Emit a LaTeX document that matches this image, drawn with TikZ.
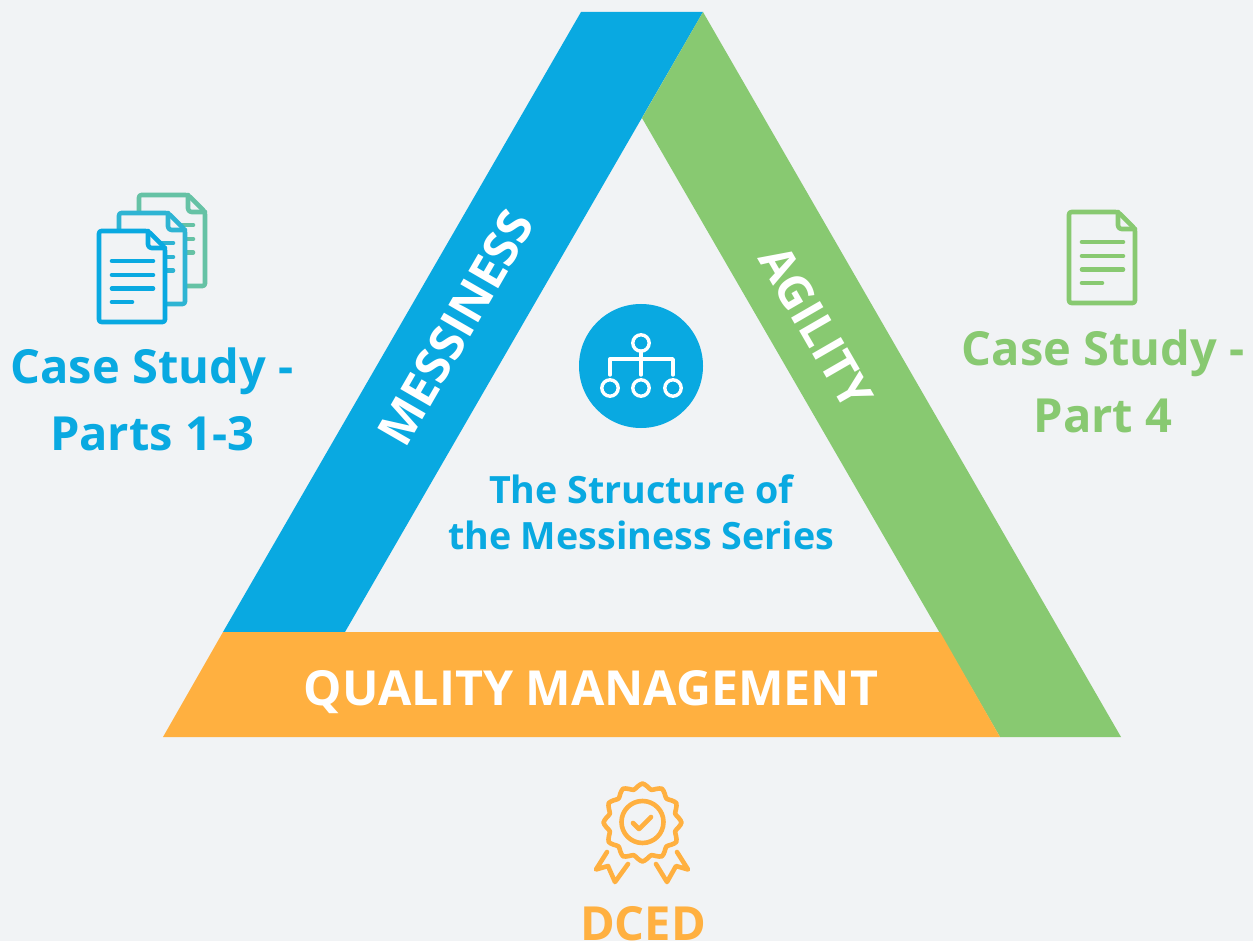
\documentclass[tikz,border=0pt]{standalone}
\usepackage{fontspec}
\setmainfont{Open Sans}
\definecolor{bgc}{HTML}{F1F3F5}
\definecolor{bluec}{HTML}{09A9E1}
\definecolor{greenc}{HTML}{88C971}
\definecolor{orangec}{HTML}{FFB040}
\definecolor{midc}{HTML}{2EB4D3}
\definecolor{tealc}{HTML}{66C2A5}
\tikzset{
  band/.style={fill=#1,draw=none},
  bigt/.style={font=\bfseries\fontsize{47}{50}\selectfont,text=#1,inner sep=0pt},
  bandt/.style={font=\bfseries\fontsize{48.3}{50}\selectfont,text=white,inner sep=0pt},
  agilt/.style={font=\bfseries\fontsize{46.5}{50}\selectfont,text=white,inner sep=0pt},
  midt/.style={font=\bfseries\fontsize{37.6}{40}\selectfont,text=bluec,inner sep=0pt},
  ico/.style={line width=4.6pt,line cap=round,line join=round},
  pics/docu/.style n args={2}{code={
    \draw[ico,draw=#1,fill=#2,rounded corners=2.5pt] (0,0) -- (49,0) -- (66,17) -- (66,91) -- (0,91) -- cycle;
    \draw[ico,draw=#1,rounded corners=3.5pt] (49,0) -- (49,17) -- (66,17);
    \draw[ico,draw=#1] (13,30) -- (54,30) (13,44) -- (54,44) (13,57.5) -- (54,57.5) (13,71) -- (33,71);
  }}
}
\begin{document}
\begin{tikzpicture}[x=1pt,y=-1pt]
\path[use as bounding box,fill=bgc] (0,0) rectangle (1253,941);
% bands
\fill[band=bluec] (581,12) -- (703,12) -- (345,632) -- (223,632) -- cycle;
\fill[band=greenc] (703,12) -- (1121,737) -- (1000,737) -- (642,118) -- cycle;
\fill[band=orangec] (223,632) -- (940,632) -- (1000,737) -- (163,737) -- cycle;
\node[bandt,rotate=60] (mess) at (456,328) {MESSINESS};
\node[agilt,rotate=-60] (agil) at (816,327) {AGILITY};
\node[bandt] (qual) at (591,692) {QUALITY MANAGEMENT};
% side labels
\node[bigt=bluec] (cs1) at (152,371) {Case Study -};
\node[bigt=bluec] (pt1) at (152,434) {Parts 1-3};
\node[bigt=greenc] (cs2) at (1103,353) {Case Study -};
\node[bigt=greenc] (pt2) at (1103,416) {Part 4};
\node[bigt=orangec] (dced) at (643,924) {DCED};
\node[midt] (t1) at (641,489) {The Structure of};
\node[midt] (t2) at (641,535) {the Messiness Series};
% documents
\pic at (139,195) {docu={tealc}{bgc}};
\pic at (119,213) {docu={midc}{bgc}};
\pic at (99,231) {docu={bluec}{bgc}};
\pic at (1069,212) {docu={greenc}{bgc}};
% hierarchy badge
\fill[bluec] (641,366) circle[radius=62];
\begin{scope}[draw=white,line width=3.4pt,line cap=round,line join=round]
\draw (641,343) circle[radius=8.2];
\draw (610,388) circle[radius=8.2] (641,388) circle[radius=8.2] (673,388) circle[radius=8.2];
\draw (641,351) -- (641,375) (610,375) -- (610,359) -- (673,359) -- (673,375);
\end{scope}
% seal
\begin{scope}[draw=orangec,line width=4.6pt,line cap=round,line join=round]
\draw[shift={(642.5,822.5)},smooth cycle,samples=48,domain=0:352.5,variable=\t] plot ({(36.4+2.6*cos(12*\t))*cos(\t)},{(36.4+2.6*cos(12*\t))*sin(\t)});
\draw (642.5,822) circle[radius=21];
\draw (633,823) -- (639,829) -- (651,817);
\draw (607,852) -- (596,869.5) -- (608,866) -- (615,882) -- (628,864);
\draw (677,852) -- (688,869.5) -- (676,866) -- (667,882) -- (656,864);
\end{scope}
\end{tikzpicture}
\end{document}
